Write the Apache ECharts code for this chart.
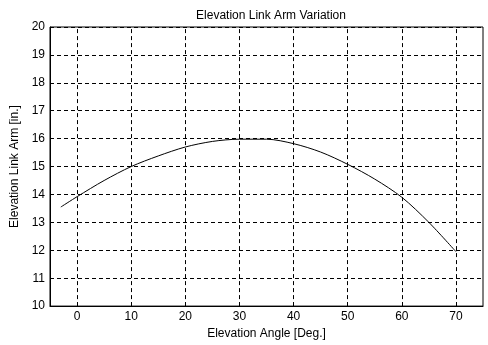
<!DOCTYPE html>
<html>
<head>
<meta charset="utf-8">
<script src="https://cdn.jsdelivr.net/npm/echarts@6/dist/echarts.min.js"></script>
<style>
  html, body { margin: 0; padding: 0; background: #fff; }
  #chart { width: 488px; height: 345px; }
</style>
</head>
<body>
<div id="chart"></div>
<script>
// elevation angle (deg) vs link arm length (in)
const angles = [-3, 0, 5, 10, 15, 20, 25, 30, 35, 40, 45, 50, 55, 60, 65, 70];
const armLength = [13.55, 13.92, 14.5, 15.0, 15.38, 15.7, 15.9, 15.98, 15.98, 15.82, 15.52, 15.08, 14.55, 13.9, 13.0, 11.95];
const xTicks = [0, 10, 20, 30, 40, 50, 60, 70];

const font = "Liberation Sans, Arial, sans-serif";
const dash = [4, 3];

const chart = echarts.init(document.getElementById("chart"));

chart.setOption({
  animation: false,
  title: {
    text: "Elevation Link Arm Variation",
    left: 266,
    textAlign: "center",
    top: 5,
    textStyle: { fontFamily: font, fontSize: 12, fontWeight: "normal", color: "#000" },
  },
  grid: {
    left: 50,
    right: 5,
    top: 27,
    bottom: 37,
    show: true,
    borderColor: "#000",
    borderWidth: 1,
    backgroundColor: "transparent",
  },
  xAxis: {
    type: "value",
    min: -5,
    max: 75,
    name: "Elevation Angle [Deg.]",
    nameLocation: "middle",
    nameGap: 17,
    nameTextStyle: { fontFamily: font, fontSize: 12, color: "#000" },
    axisLine: { show: true, onZero: false, lineStyle: { color: "#000" } },
    axisTick: { show: true, inside: true, length: 4, customValues: xTicks, lineStyle: { color: "#000" } },
    axisLabel: { customValues: xTicks, fontFamily: font, fontSize: 12, color: "#000", margin: 5 },
    splitLine: { show: false },
  },
  yAxis: {
    type: "value",
    min: 10,
    max: 20,
    interval: 1,
    name: "Elevation Link Arm [in.]",
    nameLocation: "middle",
    nameGap: 28,
    nameTextStyle: { fontFamily: font, fontSize: 12, color: "#000" },
    axisLine: { show: true, onZero: false, lineStyle: { color: "#000" } },
    axisTick: { show: true, inside: true, length: 4, lineStyle: { color: "#000" } },
    axisLabel: { fontFamily: font, fontSize: 12, color: "#000", margin: 5 },
    splitLine: { show: true, lineStyle: { color: "#000", type: dash, width: 1 } },
  },
  series: [
    {
      type: "line",
      data: angles.map((a, i) => [a, armLength[i]]),
      smooth: 0.3,
      symbol: "none",
      lineStyle: { color: "#000", width: 1 },
      markLine: {
        silent: true,
        symbol: ["none", "none"],
        label: { show: false },
        lineStyle: { color: "#000", type: dash, width: 1 },
        data: xTicks.map((v) => ({ xAxis: v })),
      },
    },
  ],
});
</script>
</body>
</html>
